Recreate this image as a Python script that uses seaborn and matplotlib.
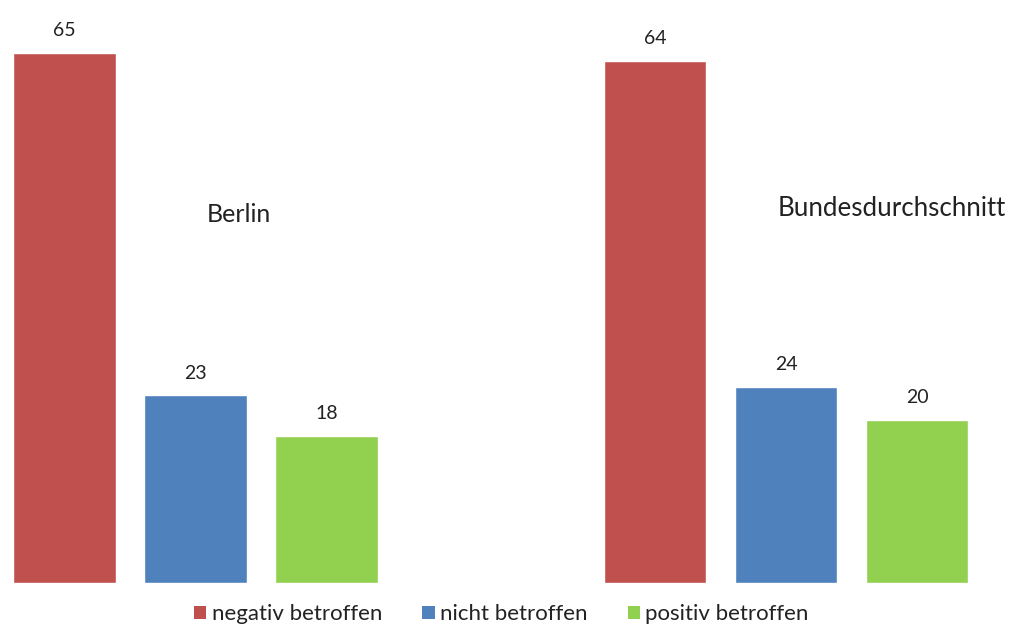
import matplotlib
matplotlib.use("Agg")
import matplotlib.pyplot as plt
from matplotlib.patches import Patch
import seaborn as sns
import pandas as pd

regions = ["Berlin", "Bundesdurchschnitt"]
statuses = ["negativ betroffen", "nicht betroffen", "positiv betroffen"]
berlin_values = [65, 23, 18]
bund_values = [64, 24, 20]
colors = ["#C0504D", "#4F81BD", "#92D050"]

df = pd.DataFrame({
    "region": [regions[0]] * 3 + [regions[1]] * 3,
    "status": statuses * 2,
    "value": berlin_values + bund_values,
})

sns.set_theme(style="white")
plt.rcParams["font.family"] = ["Lato", "DejaVu Sans"]

fig = plt.figure(figsize=(10.11, 6.3), dpi=100)
ax = fig.add_axes([0, 47 / 630, 1, 583 / 630])

sns.barplot(data=df, x="region", y="value", hue="status", order=regions,
            hue_order=statuses, palette=colors, width=0.6655, gap=0.22,
            saturation=1, legend=False, ax=ax)

for cont in ax.containers:
    ax.bar_label(cont, fmt="%d", padding=10, fontsize=14, color="#222222")

ax.set_xlim(-0.331, 1.381)
ax.set_ylim(0, 71.5)
ax.axis("off")

ax.text(0.0728, 45.25, regions[0], fontsize=18, color="#222222",
        ha="center", va="center")
ax.text(1.1795, 45.9, regions[1], fontsize=18.6, color="#222222",
        ha="center", va="center")

handles = [Patch(facecolor=c, edgecolor="none") for c in colors]
fig.legend(handles, statuses, loc="lower center", bbox_to_anchor=(0.496, -0.023),
           ncol=3, frameon=False, fontsize=16, handlelength=0.55,
           handleheight=0.55, handletextpad=0.25, columnspacing=1.8,
           labelcolor="#222222")

fig.savefig("out.png", dpi=100, facecolor="white")
